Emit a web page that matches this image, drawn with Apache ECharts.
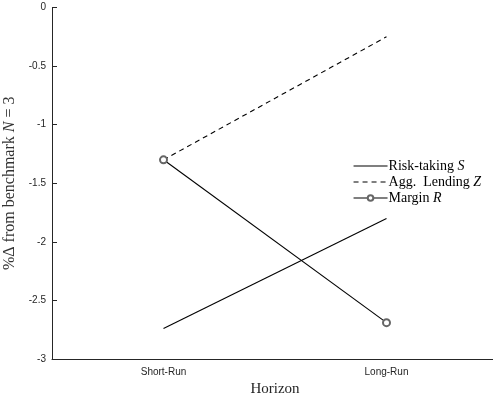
<!DOCTYPE html>
<html><head><meta charset="utf-8">
<script src="https://cdn.jsdelivr.net/npm/echarts@6/dist/echarts.min.js"></script>
<style>html,body{margin:0;padding:0;background:#fff}#c{width:493px;height:399px}</style>
</head><body><div id="c"></div>
<script>
const categories = ['Short-Run', 'Long-Run'];
const riskTaking = [-2.74, -1.80];
const aggLending = [-1.30, -0.25];
const margin = [-1.30, -2.69];
const yTicks = [0, -0.5, -1, -1.5, -2, -2.5, -3];

const chart = echarts.init(document.getElementById('c'));
const serif = '"Liberation Serif", "DejaVu Serif", serif';
const sans = '"Liberation Sans", Arial, sans-serif';
const legendRich = {
  n: {fontFamily: serif, fontSize: 14, color: '#000'},
  i: {fontFamily: serif, fontSize: 14, fontStyle: 'italic', color: '#000'}
};
chart.setOption({
  animation: false,
  backgroundColor: '#fff',
  grid: {left: 52, top: 7.5, width: 446, height: 351.5, containLabel: false, outerBoundsMode: 'none'},
  xAxis: {
    type: 'category', data: categories, boundaryGap: true,
    axisLine: {onZero: false, lineStyle: {color: '#262626', width: 1}},
    axisTick: {inside: true, alignWithLabel: true, length: 5, lineStyle: {color: '#262626'}},
    axisLabel: {fontFamily: sans, fontSize: 10, color: '#262626', margin: 8},
    name: 'Horizon', nameLocation: 'middle', nameGap: 21,
    nameTextStyle: {fontFamily: serif, fontSize: 15, color: '#262626'},
    splitLine: {show: false}
  },
  yAxis: {
    type: 'value', min: -3, max: 0, interval: 0.5,
    axisLine: {show: true, onZero: false, lineStyle: {color: '#262626', width: 1}},
    axisTick: {show: true, inside: true, length: 5, lineStyle: {color: '#262626'}},
    axisLabel: {fontFamily: sans, fontSize: 10, color: '#262626', margin: 6,
      formatter: v => yTicks.includes(v) ? String(v) : ''},
    splitLine: {show: false},
    name: '{n|%Δ from benchmark }{i|N}{n| = 3}', nameLocation: 'middle', nameGap: 34,
    nameTextStyle: {rich: {
      n: {fontFamily: serif, fontSize: 16, color: '#333'},
      i: {fontFamily: serif, fontSize: 16, fontStyle: 'italic', color: '#333'}
    }}
  },
  legend: {
    orient: 'vertical', left: 353, top: 159, itemWidth: 34, itemHeight: 7, itemGap: 2,
    padding: 0,
    lineStyle: {width: 1.1, color: '#000'},
    data: [
      {name: 'Risk-taking', itemStyle: {opacity: 0}},
      {name: 'Agg. Lending', itemStyle: {opacity: 0}},
      {name: 'Margin'}
    ],
    formatter: function (name) {
      if (name === 'Risk-taking') return '{n|Risk-taking }{i|S}';
      if (name === 'Agg. Lending') return '{n|Agg.  Lending }{i|Z}';
      return '{n|Margin }{i|R}';
    },
    textStyle: {rich: legendRich, padding: [0, 0, 0, -4]}
  },
  series: [
    {name: 'Risk-taking', type: 'line', data: riskTaking, symbol: 'none',
      lineStyle: {color: '#000', width: 1.1}, itemStyle: {color: '#000'}},
    {name: 'Agg. Lending', type: 'line', data: aggLending, symbol: 'none',
      lineStyle: {color: '#000', width: 1.1, type: [5, 4]}, itemStyle: {color: '#000'}},
    {name: 'Margin', type: 'line', data: margin, symbol: 'emptyCircle', symbolSize: 7,
      lineStyle: {color: '#000', width: 1.1}, itemStyle: {color: '#666', borderColor: '#666', borderWidth: 0.8}}
  ]
});
</script></body></html>
